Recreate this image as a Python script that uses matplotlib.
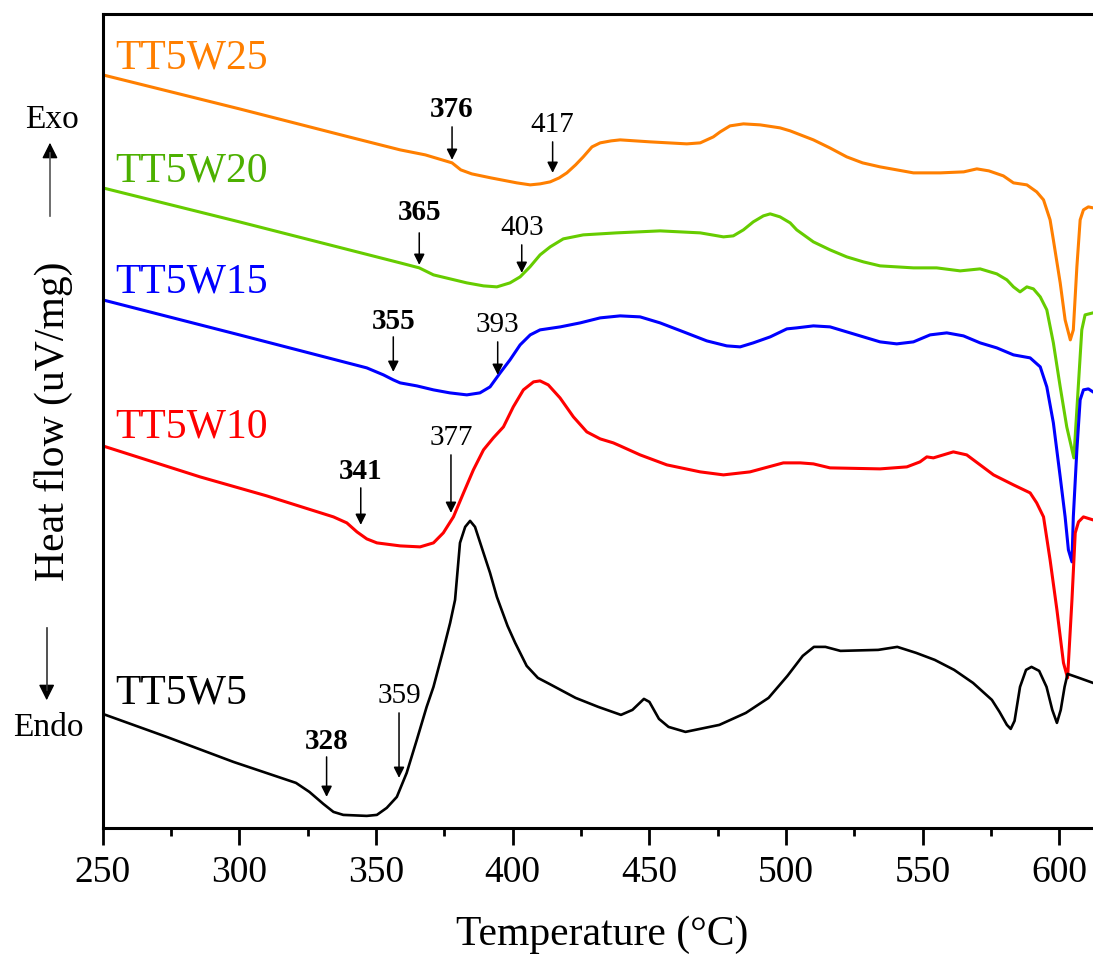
import matplotlib.pyplot as plt
from matplotlib.lines import Line2D
from matplotlib.patches import FancyArrowPatch

plt.rcParams['font.family'] = ['Liberation Serif', 'DejaVu Serif']

# DSC traces, temperature (°C) vs heat flow (a.u., curves stacked)
t_w25 = [250, 300, 340, 358.8, 368, 377.8, 381, 385, 392, 401.5, 406.4, 410, 413.7, 417, 419.8,
         423, 425.8, 429, 432, 436, 439.3, 450.3, 463.7, 468.6, 471, 473.4, 475.9, 479.5, 484.4,
         490.5, 497.8, 501.5, 510, 516, 522.2, 528, 534.4, 540.5, 546.6, 556.5, 565, 569.8, 574.2,
         579.5, 583.2, 588.1, 591.7, 594.2, 596.6, 597.8, 600.3, 602.1, 604, 605.1, 606.4, 607.6,
         608.8, 610.6, 612.3]
h_w25 = [753, 719, 691, 678, 673, 665, 658, 654, 650, 645, 643, 644, 646, 650, 655,
         663, 671, 681, 685, 687, 688, 686, 684, 685, 688, 691, 696, 702, 704,
         703, 700, 697, 688, 680, 671, 665, 661, 658, 655, 655, 656, 659, 657,
         652, 645, 643, 636, 628, 608, 588, 545, 508, 488, 498, 561, 608,
         618, 621, 620]

t_w20 = [250, 300, 358.8, 365.8, 371, 377.1, 383.2, 389.3, 394.2, 399, 402.7, 406.3, 410, 413.7,
         418.5, 425.8, 438, 453.9, 468.6, 477.1, 480.7, 484.4, 488, 491.7, 494.2, 497.8, 501.5,
         503.9, 510, 516.1, 522.2, 528.3, 534.4, 546.6, 555.1, 563.7, 571, 577.1, 580.8, 583.2,
         585.6, 588.1, 590.5, 593, 595.4, 597.8, 600.3, 602.7, 605.3, 607, 608.2, 609.4, 612.3]
h_w20 = [640, 606, 565, 560, 553, 549, 545, 542, 541, 545, 551, 561, 573, 581,
         589, 593, 595, 597, 595, 591, 592, 598, 606, 612, 614, 611, 605,
         598, 586, 578, 571, 566, 562, 560, 560, 557, 559, 554, 548, 541,
         536, 541, 539, 531, 518, 485, 441, 401, 370, 445, 498, 513, 515]

t_w15 = [250, 300, 346.6, 352.7, 356.3, 358.8, 364.9, 371, 377, 383.2, 388, 391.7, 395.4, 399,
         402.7, 406.4, 410, 417.4, 424.7, 432, 439.3, 446.6, 453.9, 462.5, 471, 478.3, 483.2, 488,
         494.2, 500.3, 503.9, 510, 516.1, 522.2, 528.3, 534.4, 540.5, 546.6, 552.7, 558.8, 564.9,
         571, 577.1, 583.2, 589.3, 593, 595.4, 597.8, 600.3, 602.1, 603.3, 604.6, 605.1, 606.4,
         607.6, 608.8, 610.6, 612.3]
h_w15 = [528, 493, 460, 453, 448, 445, 442, 438, 435, 433, 435, 441, 455, 468,
         483, 493, 498, 501, 505, 510, 512, 511, 505, 496, 487, 482, 481, 485,
         491, 499, 500, 502, 501, 496, 491, 486, 484, 486, 493, 495, 492,
         485, 480, 473, 470, 461, 441, 405, 351, 311, 278, 266, 311, 378,
         428, 438, 439, 436]

t_w10 = [250, 285.6, 310, 334.4, 339.3, 343, 346.6, 350.3, 358.8, 366.1, 371, 374.6, 378.3, 382,
         385.6, 389.3, 392.9, 396.6, 400.2, 403.9, 407.6, 410, 413, 417.3, 422.2, 427.1, 432,
         436.8, 439.3, 446.6, 456.4, 468.6, 477.1, 486.8, 499, 505.2, 510, 516.1, 534.4, 544.2,
         549, 551.5, 553.9, 561.2, 566.1, 571, 575.9, 583.2, 589.3, 591.7, 594.2, 596.6, 599.1,
         601.5, 603, 604.6, 605.8, 607, 608.8, 612.3]
h_w10 = [382, 351, 332, 311, 305, 296, 289, 285, 282, 281, 285, 295, 311, 335,
         358, 378, 390, 401, 421, 438, 446, 447, 443, 430, 411, 396, 389,
         385, 382, 373, 363, 356, 353, 356, 365, 365, 364, 360, 359, 361,
         366, 371, 370, 376, 373, 363, 353, 343, 335, 325, 311, 268, 218,
         165, 150, 228, 295, 306, 311, 308]

t_w5 = [250, 273.4, 297.8, 320.7, 325.6, 330.7, 334.4, 338, 346.6, 350.3, 353.9, 357.6, 361.2, 364.9,
        368.5, 371, 374.6, 377.1, 378.9, 380.7, 382.6, 384.4, 386.2, 389.3, 391.7, 394.2, 395.4,
        398.1, 400.9, 405.1, 409.2, 413.4, 423, 431.3, 439.6, 443.8, 448, 450, 453.5, 457, 463.2,
        475.6, 485.3, 493.6, 500.5, 506.1, 510.2, 514.4, 519.9, 533.7, 540.7, 547.6, 554.4, 561.5,
        568.4, 575.3, 578.1, 580.8, 582.2, 583.6, 585.6, 587.8, 589.8, 592.6, 595.3, 597.4, 599.1,
        600.5, 601.9, 603, 607.2, 612.3]
h_w5 = [114, 91, 66, 45, 36, 24, 16, 13, 12, 13, 20, 31, 55, 88,
        121, 141, 178, 205, 228, 285, 301, 307, 301, 275, 255, 231, 222,
        202, 185, 162, 150, 144, 130, 121, 113, 118, 129, 126, 109, 101, 96,
        103, 115, 130, 152, 172, 181, 181, 177, 178, 181, 175, 168, 158,
        145, 128, 116, 103, 99, 107, 141, 158, 161, 157, 141, 118, 105,
        118, 141, 154, 150, 145]

names = ['TT5W25', 'TT5W20', 'TT5W15', 'TT5W10', 'TT5W5']
line_colors = ['#FF7F00', '#66CC00', '#0000FF', '#FF0000', '#000000']
text_colors = ['#FF7F00', '#4CB000', '#0000FF', '#FF0000', '#000000']
label_h = [770, 657, 546, 401, 135]

# onset marks: temperature, label, bold, text height, arrow tail, arrow tip
mark_t = [377.8, 414.6, 365.8, 403.3, 356.3, 394.5, 344.4, 377.4, 331.9, 358.4]
mark_txt = ['376', '417', '365', '403', '355', '393', '341', '377', '328', '359']
mark_bold = [True, False, True, False, True, False, True, False, True, False]
mark_text_h = [718, 703, 615, 600, 506, 503, 356, 390, 86, 132]
mark_tail = [701, 686, 595, 583, 491, 486, 340, 373, 71, 115]
mark_tip = [668, 655, 563, 555, 456, 453, 303, 315, 31, 50]

fig = plt.figure(figsize=(10.93, 9.56), dpi=100)
ax = fig.add_axes([0.094, 0.134, 0.906, 0.8515])

series = [(t_w25, h_w25), (t_w20, h_w20), (t_w15, h_w15), (t_w10, h_w10), (t_w5, h_w5)]
for (t, h), c, lw in zip(series, line_colors, [2.2, 2.2, 2.2, 2.2, 1.9]):
    ax.plot(t, h, color=c, lw=lw, solid_joinstyle='round')

for n, c, y in zip(names, text_colors, label_h):
    ax.text(254.5, y, n, color=c, fontsize=30, ha='left', va='center')

for t, s, b, ty, y0, y1 in zip(mark_t, mark_txt, mark_bold, mark_text_h, mark_tail, mark_tip):
    ax.text(t, ty, s, fontsize=21, ha='center', va='center',
            fontweight='bold' if b else 'normal')
    ax.annotate('', xy=(t, y1), xytext=(t, y0),
                arrowprops=dict(arrowstyle='-|>', color='black', lw=1.1,
                                mutation_scale=16, shrinkA=0, shrinkB=0))

ax.set_xlim(250, 612.3)
ax.set_ylim(0, 814)
ax.set_xticks([250, 300, 350, 400, 450, 500, 550, 600])
ax.set_xticks([275, 325, 375, 425, 475, 525, 575], minor=True)
ax.set_yticks([])
ax.tick_params(axis='x', which='major', direction='out', length=12, width=2, labelsize=27, pad=8)
ax.tick_params(axis='x', which='minor', direction='out', length=6, width=2)
for side in ['left', 'bottom', 'top']:
    ax.spines[side].set_linewidth(2.2)
ax.spines['right'].set_visible(False)

fig.text(0.551, 0.022, 'Temperature (°C)', fontsize=30, ha='center', va='center')
fig.text(0.049, 0.559, 'Heat flow (uV/mg)', fontsize=30, ha='center', va='center', rotation=90)

# exo / endo direction arrows: gray shaft, black head
fig.text(0.0476, 0.8745, 'Exo', fontsize=24, ha='center', va='center')
fig.text(0.0439, 0.2385, 'Endo', fontsize=24, ha='center', va='center')
fig.add_artist(Line2D([0.0457, 0.0457], [0.774, 0.84], color='#555555', lw=1.2))
fig.add_artist(FancyArrowPatch((0.0457, 0.835), (0.0457, 0.8536), transform=fig.transFigure,
                               arrowstyle='-|>', mutation_scale=24, color='black', lw=1))
fig.add_artist(Line2D([0.0427, 0.0427], [0.3431, 0.278], color='#333333', lw=1.2))
fig.add_artist(FancyArrowPatch((0.0427, 0.283), (0.0427, 0.2646), transform=fig.transFigure,
                               arrowstyle='-|>', mutation_scale=24, color='black', lw=1))

fig.savefig('out.png', dpi=100)
